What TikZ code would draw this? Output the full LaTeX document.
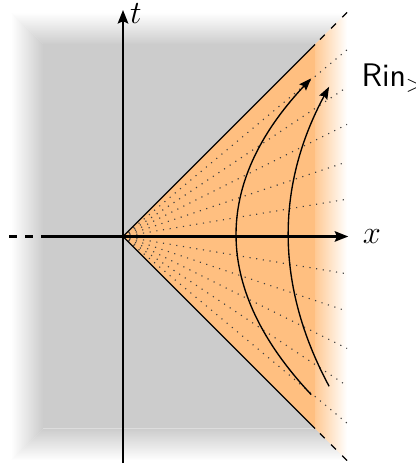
\documentclass[tikz,border=0pt]{standalone}
\usetikzlibrary{arrows.meta}
\begin{document}
\begin{tikzpicture}[
  x=1cm,y=1cm,
  font=\fontsize{14.5}{17}\selectfont,
  axis/.style={line width=1.2pt, -{Stealth[length=6pt,width=4.6pt,inset=1pt]}},
  axisdash/.style={line width=1.2pt, dash pattern=on 3.5pt off 3.6pt},
  cone/.style={line width=0.6pt},
  conedash/.style={line width=0.6pt, dash pattern=on 3pt off 4pt},
  rap/.style={line width=0.5pt, dash pattern=on 0.5pt off 2.5pt, black!75},
  worldline/.style={line width=0.6pt, -{Stealth[length=5.5pt,width=4pt,inset=0.8pt]}},
  axlabel/.style={inner sep=0, font=\fontsize{14}{16}\selectfont},
]
\colorlet{grreg}{black!20}
\colorlet{wedge}{orange!50}
\useasboundingbox (-1.922,-3.586) rectangle (4.563,3.695);

% named points
\coordinate (O) at (0,0);
\coordinate (cu) at (3,3);
\coordinate (cuo) at (3.5,3.5);
\coordinate (cd) at (3,-3);
\coordinate (cdo) at (3.5,-3.5);

% grey region (outside the wedge), faded edges
\begin{scope}
  \clip (0,0) -- (4,4) -- (-2,4) -- (-2,-4) -- (4,-4) -- cycle;
  \fill[grreg] (-1.25,-3) rectangle (3,3);
  \shade[left color=white, right color=grreg] (-1.75,-3.5) -- (-1.25,-3) -- (-1.25,3) -- (-1.75,3.5) -- cycle;
  \shade[top color=white, bottom color=grreg] (-1.75,3.5) -- (3.5,3.5) -- (3,3) -- (-1.25,3) -- cycle;
  \shade[bottom color=white, top color=grreg] (-1.75,-3.5) -- (3.5,-3.5) -- (3,-3) -- (-1.25,-3) -- cycle;
\end{scope}

% Rindler wedge
\fill[wedge] (O) -- (cu) -- (cd) -- cycle;
\shade[left color=orange!42, right color=white] (cu) -- (cuo) -- (cdo) -- (cd) -- cycle;

% rapidity lines
\foreach \k in {1,...,5}{
  \coordinate (ru\k) at (3.5,{\k*3.5/6});
  \coordinate (rd\k) at (3.5,{-\k*3.5/6});
  \draw[rap] (O) -- (ru\k);
  \draw[rap] (O) -- (rd\k);
}

% light cone
\draw[cone] (O) -- (cu);
\draw[cone] (O) -- (cd);
\draw[conedash] (cuo) -- (cu);
\draw[conedash] (cdo) -- (cd);

% world lines
\coordinate (h1s) at (2.94,-2.47);
\coordinate (h1a) at (1.393,-0.823);
\coordinate (h1b) at (1.393,0.823);
\coordinate (h1e) at (2.94,2.47);
\draw[worldline] (h1s) .. controls (h1a) and (h1b) .. (h1e);
\coordinate (h2s) at (3.22,-2.34);
\coordinate (h2a) at (2.38,-0.78);
\coordinate (h2b) at (2.38,0.78);
\coordinate (h2e) at (3.22,2.34);
\draw[worldline] (h2s) .. controls (h2a) and (h2b) .. (h2e);

% axes
\coordinate (xl) at (-1.78,0);
\coordinate (xm) at (-1.25,0);
\coordinate (xr) at (3.52,0);
\coordinate (tb) at (0,-3.54);
\coordinate (tt) at (0,3.54);
\draw[axisdash] (xl) -- (xm);
\draw[axis] (xm) -- (xr);
\draw[axis] (tb) -- (tt);

% labels
\node[axlabel, anchor=west] (xlab) at (3.74,0) {$x$};
\node[axlabel] (tlab) at (0.2,3.49) {$t$};
\node[anchor=base west, inner sep=0] (rlab) at (3.72,2.34) {\sffamily Rin$_>$};
\end{tikzpicture}
\end{document}
